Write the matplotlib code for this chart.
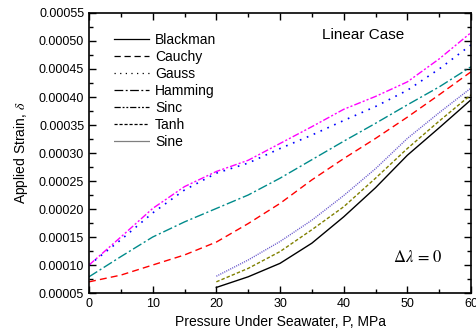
import matplotlib
matplotlib.use("Agg")
import matplotlib.pyplot as plt
from matplotlib.lines import Line2D
from matplotlib.ticker import MultipleLocator, FormatStrFormatter

plt.rcParams['font.family'] = ['Liberation Sans', 'DejaVu Sans']
plt.rcParams['mathtext.fontset'] = 'stix'

# --- dane ---
p_full = [0, 5, 10, 15, 20, 25, 30, 35, 40, 45, 50, 55, 60]
p_half = [20, 25, 30, 35, 40, 45, 50, 55, 60]

cauchy = [0.000070, 0.000082, 0.000100, 0.000118, 0.000141, 0.000174, 0.000210,
          0.000252, 0.000290, 0.000326, 0.000364, 0.000404, 0.000445]
gauss = [0.000100, 0.000145, 0.000193, 0.000234, 0.000264, 0.000282, 0.000308,
         0.000332, 0.000358, 0.000383, 0.000412, 0.000450, 0.000493]
hamming = [0.000079, 0.000115, 0.000150, 0.000177, 0.000201, 0.000225, 0.000255,
           0.000288, 0.000321, 0.000353, 0.000386, 0.000418, 0.000454]
sinc = [0.000100, 0.000150, 0.000201, 0.000240, 0.000267, 0.000287, 0.000317,
        0.000347, 0.000378, 0.000401, 0.000427, 0.000468, 0.000515]

blackman = [0.000060, 0.000079, 0.000103, 0.000139, 0.000186, 0.000238, 0.000296,
            0.000345, 0.000395]
tanh = [0.000070, 0.000094, 0.000124, 0.000163, 0.000204, 0.000255, 0.000308,
        0.000357, 0.000404]
sine = [0.000080, 0.000109, 0.000142, 0.000180, 0.000224, 0.000272, 0.000326,
        0.000372, 0.000416]

labels = ["Blackman", "Cauchy", "Gauss", "Hamming", "Sinc", "Tanh", "Sine"]
styles = ["-", (0, (5, 3)), (0, (1, 3.5)), (0, (7, 2, 1.5, 2)),
          (0, (5, 1.5, 1.5, 1.5, 1.5, 1.5)), (0, (2.5, 1.5)), (0, (0.8, 0.8))]

fig = plt.figure(figsize=(4.76, 3.33), dpi=100)
ax = fig.add_axes([0.187, 0.12, 0.8025, 0.841])

ax.plot(p_half, blackman, color="black", ls=styles[0], lw=1.0)
ax.plot(p_full, cauchy, color="red", ls=styles[1], lw=1.0)
ax.plot(p_full, gauss, color="blue", ls=styles[2], lw=1.2)
ax.plot(p_full, hamming, color="#008b8b", ls=styles[3], lw=1.0)
ax.plot(p_full, sinc, color="magenta", ls=styles[4], lw=1.0)
ax.plot(p_half, tanh, color="#808000", ls=styles[5], lw=1.0)
ax.plot(p_half, sine, color="#6a5acd", ls=styles[6], lw=1.0)

# legenda z czarnymi liniami jak w oryginale
handles = [Line2D([], [], color="black", ls=s, lw=0.9) for s in styles]
ax.legend(handles, labels, loc="upper left", bbox_to_anchor=(0.066, 0.93),
          frameon=False, fontsize=10, handlelength=2.5, handletextpad=0.45,
          labelspacing=0.22, borderaxespad=0, borderpad=0)

ax.set_xlim(0, 60)
ax.set_ylim(0.00005, 0.00055)
ax.xaxis.set_major_locator(MultipleLocator(10))
ax.xaxis.set_minor_locator(MultipleLocator(5))
ax.yaxis.set_major_locator(MultipleLocator(0.00005))
ax.yaxis.set_minor_locator(MultipleLocator(0.000025))
ax.yaxis.set_major_formatter(FormatStrFormatter("%.5f"))
ax.tick_params(which="both", direction="in", top=True, right=True, labelsize=9)
ax.tick_params(which="major", length=5, width=1)
ax.tick_params(which="minor", length=3, width=1)
for sp in ax.spines.values():
    sp.set_linewidth(1.2)

ax.set_xlabel("Pressure Under Seawater, P, MPa", fontsize=10, labelpad=4)
ax.set_ylabel(r"Applied Strain, $\delta$", fontsize=10, labelpad=6)

ax.text(0.61, 0.921, "Linear Case", transform=ax.transAxes, fontsize=11, va="center")
ax.text(0.795, 0.129, r"$\Delta\lambda\,=\,0$", transform=ax.transAxes, fontsize=12,
        va="center")

plt.savefig("out.png", dpi=100)
